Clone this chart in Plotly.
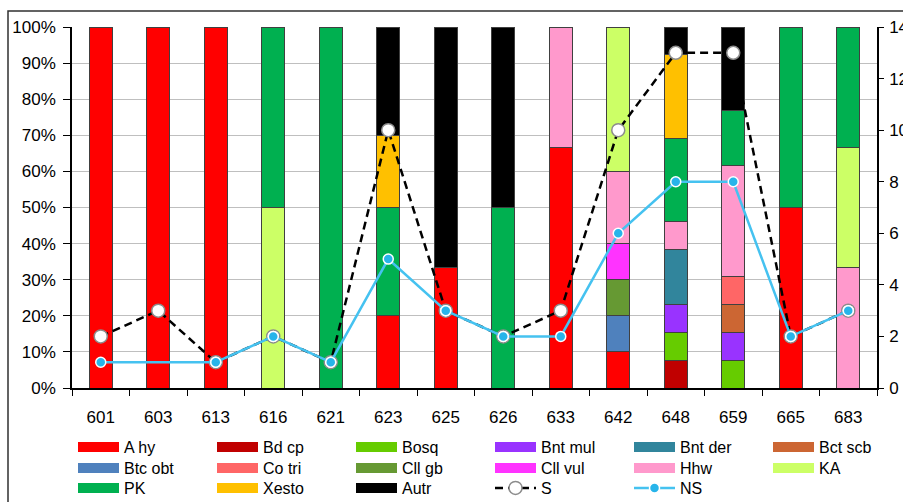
import plotly.graph_objects as go

sites = ['601', '603', '613', '616', '621', '623', '625', '626', '633', '642', '648', '659', '665', '683']

# species counts per site (stacked and normalised to 100 %)
a_hy    = [2, 3, 1, 0, 0, 2, 1, 0, 2, 1, 0, 0, 1, 0]
bd_cp   = [0, 0, 0, 0, 0, 0, 0, 0, 0, 0, 1, 0, 0, 0]
bosq    = [0, 0, 0, 0, 0, 0, 0, 0, 0, 0, 1, 1, 0, 0]
bnt_mul = [0, 0, 0, 0, 0, 0, 0, 0, 0, 0, 1, 1, 0, 0]
bnt_der = [0, 0, 0, 0, 0, 0, 0, 0, 0, 0, 2, 0, 0, 0]
bct_scb = [0, 0, 0, 0, 0, 0, 0, 0, 0, 0, 0, 1, 0, 0]
btc_obt = [0, 0, 0, 0, 0, 0, 0, 0, 0, 1, 0, 0, 0, 0]
co_tri  = [0, 0, 0, 0, 0, 0, 0, 0, 0, 0, 0, 1, 0, 0]
cll_gb  = [0, 0, 0, 0, 0, 0, 0, 0, 0, 1, 0, 0, 0, 0]
cll_vul = [0, 0, 0, 0, 0, 0, 0, 0, 0, 1, 0, 0, 0, 0]
hhw     = [0, 0, 0, 0, 0, 0, 0, 0, 1, 2, 1, 4, 0, 1]
ka      = [0, 0, 0, 1, 0, 0, 0, 0, 0, 4, 0, 0, 0, 1]
pk      = [0, 0, 0, 1, 1, 3, 0, 1, 0, 0, 3, 2, 1, 1]
xesto   = [0, 0, 0, 0, 0, 2, 0, 0, 0, 0, 3, 0, 0, 0]
autr    = [0, 0, 0, 0, 0, 3, 2, 1, 0, 0, 1, 3, 0, 0]

s_vals  = [2, 3, 1, 2, 1, 10, 3, 2, 3, 10, 13, 13, 2, 3]
ns_vals = [1, None, 1, 2, 1, 5, 3, 2, 2, 6, 8, 8, 2, 3]

species = [
    ('A hy', a_hy, '#FF0000', 'legend'),
    ('Bd cp', bd_cp, '#C00000', 'legend'),
    ('Bosq', bosq, '#66CC00', 'legend'),
    ('Bnt mul', bnt_mul, '#9933FF', 'legend'),
    ('Bnt der', bnt_der, '#31859C', 'legend'),
    ('Bct scb', bct_scb, '#CC6633', 'legend'),
    ('Btc obt', btc_obt, '#4F81BD', 'legend2'),
    ('Co tri', co_tri, '#FF6666', 'legend2'),
    ('Cll gb', cll_gb, '#669933', 'legend2'),
    ('Cll vul', cll_vul, '#FF33FF', 'legend2'),
    ('Hhw', hhw, '#FF99CC', 'legend2'),
    ('KA', ka, '#CCFF66', 'legend2'),
    ('PK', pk, '#00B050', 'legend3'),
    ('Xesto', xesto, '#FFC000', 'legend3'),
    ('Autr', autr, '#000000', 'legend3'),
]

FONT = 'Liberation Sans, Arial, sans-serif'
fig = go.Figure()

for name, vals, col, lg in species:
    fig.add_trace(go.Bar(
        x=sites, y=vals, name=name, marker=dict(color=col, line=dict(color='#404040', width=1)),
        showlegend=False, legendgroup=name,
    ))

# legend swatches
for name, vals, col, lg in species:
    fig.add_trace(go.Scatter(
        x=[None], y=[None], mode='lines', name=name, legend=lg, legendgroup=name,
        line=dict(color=col, width=10),
    ))

fig.add_trace(go.Scatter(
    x=sites, y=s_vals, name='S', yaxis='y2', legend='legend3', mode='lines+markers',
    line=dict(color='black', width=2.5, dash='8px,5px'),
    marker=dict(size=13, color='white', line=dict(color='#8C8C8C', width=1.5)),
))
fig.add_trace(go.Scatter(
    x=sites, y=ns_vals, name='NS', yaxis='y2', legend='legend3', mode='lines+markers',
    connectgaps=True,
    line=dict(color='#45C2F0', width=2.5),
    marker=dict(size=10, color='#27B4EA', line=dict(color='white', width=1.5)),
))

W, H = 903, 502
ML, MR, MT, MB = 72, 26, 27, 114
PH = H - MT - MB


def py(ypix):
    return (H - MB - ypix) / PH


leg_common = dict(orientation='h', xanchor='left', yanchor='middle', x=73 / W,
                  bgcolor='rgba(0,0,0,0)', font=dict(family=FONT, size=16, color='black'),
                  entrywidth=83, itemwidth=41, tracegroupgap=0)

fig.update_layout(
    width=W, height=H,
    margin=dict(l=0, r=0, t=MT, b=MB, autoexpand=False),
    paper_bgcolor='white', plot_bgcolor='white',
    barmode='stack', barnorm='fraction', bargap=0.6,
    font=dict(family=FONT, size=17, color='black'),
    xaxis=dict(domain=[ML / W, (W - MR) / W], type='category', range=[-0.5, len(sites) - 0.5],
               showline=True, linecolor='black',
               linewidth=1.5, ticks='outside', ticklen=6, tickcolor='black', tickson='boundaries',
               showgrid=False, tickfont=dict(size=17), ticklabelstandoff=13),
    yaxis=dict(range=[0, 1], dtick=0.1, tickformat='.0%', showline=True, linecolor='black',
               linewidth=1.5, ticks='outside', ticklen=7, tickcolor='black',
               gridcolor='#BFBFBF', gridwidth=1, zeroline=False, tickfont=dict(size=17),
               ticklabelstandoff=4),
    yaxis2=dict(range=[0, 14], dtick=2, overlaying='y', side='right', anchor='x', showline=True,
                linecolor='black', linewidth=1.5, ticks='outside', ticklen=5, tickcolor='black',
                showgrid=False, zeroline=False, tickfont=dict(size=17), ticklabelstandoff=2),
    legend=dict(**leg_common, y=py(447)),
    legend2=dict(**leg_common, y=py(468)),
    legend3=dict(**leg_common, y=py(488)),
    shapes=[dict(type='rect', xref='paper', yref='paper', x0=8 / W, x1=1.05,
                 y0=py(520), y1=py(11), line=dict(color='#303030', width=1.5), layer='below')],
)

fig.write_html('out.html')
